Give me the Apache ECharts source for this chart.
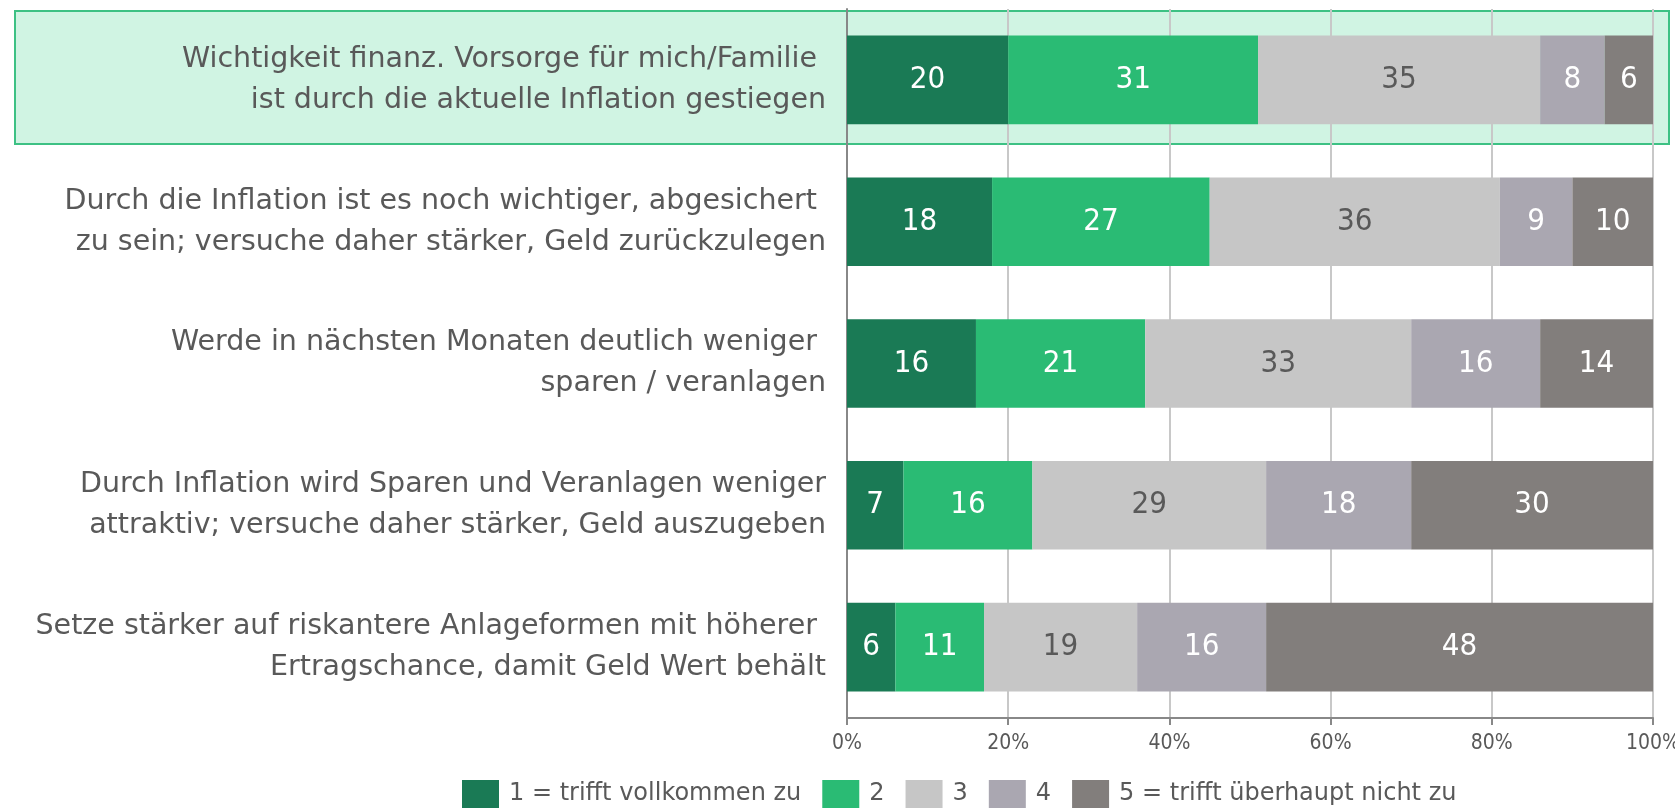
<!DOCTYPE html>
<html>
<head>
<meta charset="utf-8">
<script src="https://cdn.jsdelivr.net/npm/echarts@6/dist/echarts.min.js"></script>
<style>
  html, body { margin: 0; padding: 0; background: #fff; }
  #chart { width: 1675px; height: 809px; }
</style>
</head>
<body>
<div id="chart"></div>
<script>
var FONT = '"DejaVu Sans", Verdana, sans-serif';
var NARROW = '"Liberation Sans Narrow", "DejaVu Sans Condensed", sans-serif';

var categories = [
  "Wichtigkeit finanz. Vorsorge für mich/Familie \nist durch die aktuelle Inflation gestiegen",
  "Durch die Inflation ist es noch wichtiger, abgesichert \nzu sein; versuche daher stärker, Geld zurückzulegen",
  "Werde in nächsten Monaten deutlich weniger \nsparen / veranlagen",
  "Durch Inflation wird Sparen und Veranlagen weniger\nattraktiv; versuche daher stärker, Geld auszugeben",
  "Setze stärker auf riskantere Anlageformen mit höherer \nErtragschance, damit Geld Wert behält"
];
var seriesNames = ["1 = trifft vollkommen zu", "2", "3", "4", "5 = trifft überhaupt nicht zu"];
var s1 = [20, 18, 16, 7, 6];
var s2 = [31, 27, 21, 16, 11];
var s3 = [35, 36, 33, 29, 19];
var s4 = [8, 9, 16, 18, 16];
var s5 = [6, 10, 14, 30, 48];
var tickValues = [0, 20, 40, 60, 80, 100];

var colors = ["#1a7a55", "#2abb74", "#c6c6c6", "#aaa7b1", "#827e7c"];
var labelColors = ["#ffffff", "#ffffff", "#595959", "#ffffff", "#ffffff"];

var myChart = echarts.init(document.getElementById("chart"));

var allData = [s1, s2, s3, s4, s5];
var series = allData.map(function (d, i) {
  return {
    name: seriesNames[i],
    type: "bar",
    stack: "total",
    barCategoryGap: "37.5%",
    data: d,
    itemStyle: { color: colors[i] },
    label: {
      show: true,
      position: "inside",
      color: labelColors[i],
      fontFamily: NARROW,
      fontSize: 31
    },
    emphasis: { disabled: true }
  };
});

myChart.setOption({
  animation: false,
  color: colors,
  textStyle: { fontFamily: FONT },
  graphic: [
    {
      type: "rect",
      z: -10,
      silent: true,
      shape: { x: 15, y: 11, width: 1654, height: 133 },
      style: { fill: "#d0f4e3", stroke: "#3dc184", lineWidth: 2 }
    }
  ],
  grid: {
    left: 847, right: 22, top: 9, bottom: 91,
    containLabel: false,
    outerBoundsMode: "none"
  },
  legend: {
    left: 462,
    bottom: 1,
    padding: 0,
    itemWidth: 37,
    itemHeight: 28,
    itemGap: 21,
    icon: "rect",
    selectedMode: false,
    textStyle: { fontFamily: FONT, fontSize: 24, color: "#595959", padding: [0, 0, 0, 5] },
    data: seriesNames
  },
  xAxis: {
    type: "value",
    min: tickValues[0],
    max: tickValues[tickValues.length - 1],
    interval: 20,
    axisLine: { show: true, lineStyle: { color: "#888888", width: 2 } },
    axisTick: { show: true, length: 7, lineStyle: { color: "#888888", width: 2 } },
    splitLine: { show: true, lineStyle: { color: "#c8c8c8", width: 2 } },
    axisLabel: {
      formatter: "{value}%",
      fontFamily: NARROW,
      fontSize: 21,
      color: "#595959",
      margin: 15
    }
  },
  yAxis: {
    type: "category",
    inverse: true,
    data: categories,
    axisLine: { show: true, lineStyle: { color: "#888888", width: 2 } },
    axisTick: { show: false },
    splitLine: { show: false },
    axisLabel: {
      fontFamily: FONT,
      fontSize: 28.5,
      lineHeight: 41,
      color: "#595959",
      align: "right",
      margin: 21,
      padding: [10, 0, 0, 0]
    }
  },
  series: series
});
</script>
</body>
</html>
